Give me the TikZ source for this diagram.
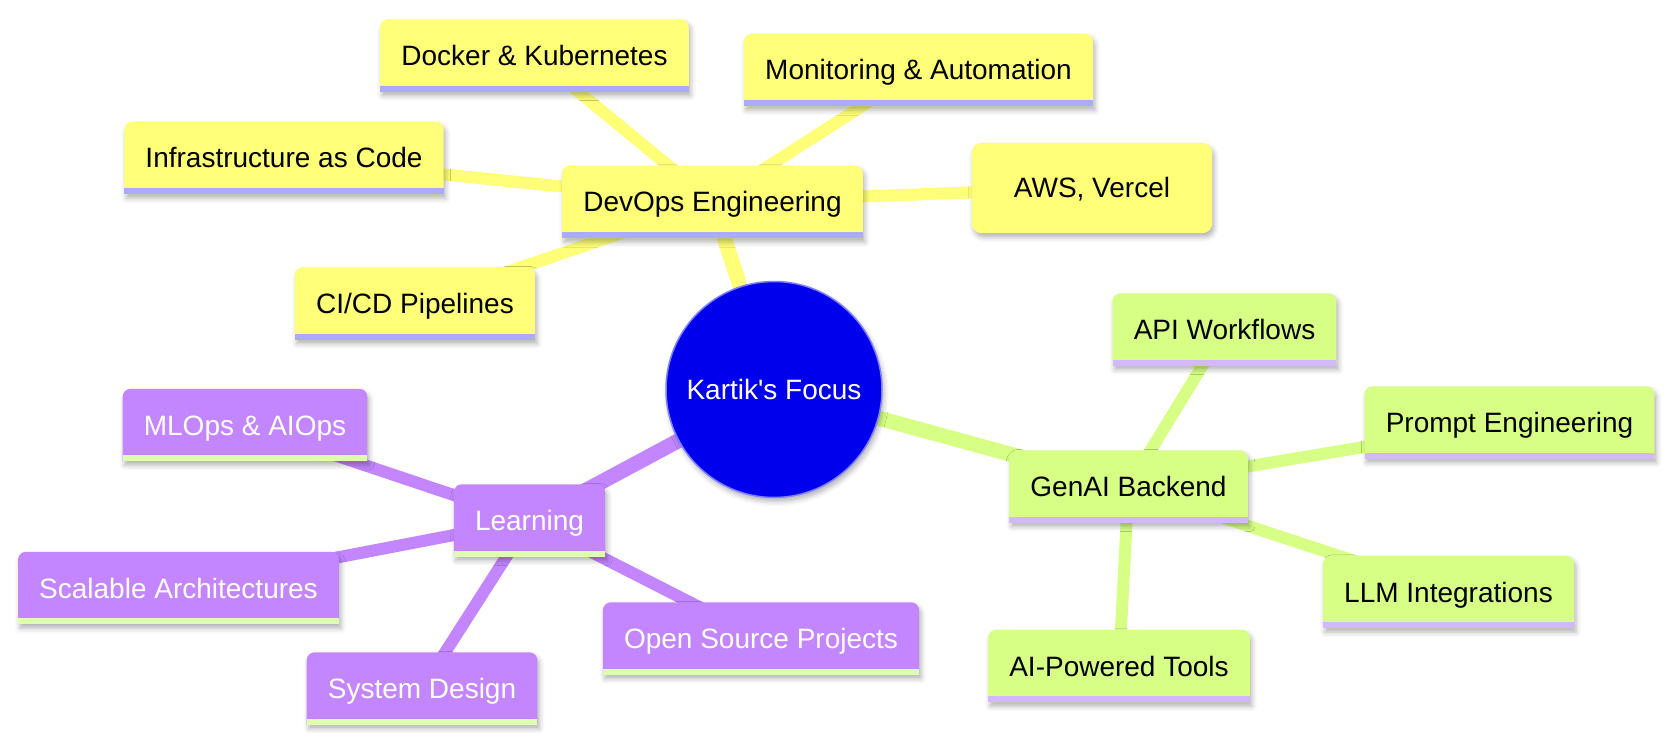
\documentclass[tikz,border=0pt]{standalone}
\usepackage{fontspec}
\setmainfont{Liberation Sans}[Ligatures=TeXOff]
\usetikzlibrary{shadows.blur}
\pgfdeclarelayer{edges}
\pgfdeclarelayer{boxes}
\pgfsetlayers{edges,boxes,main}
\definecolor{yel}{HTML}{FFFF78}
\definecolor{yelstrip}{HTML}{AAAAFF}
\definecolor{grn}{HTML}{D7FF86}
\definecolor{grnstrip}{HTML}{D2B9FF}
\definecolor{pur}{HTML}{C386FF}
\definecolor{purstrip}{HTML}{DCFFB0}
\definecolor{rootblue}{HTML}{0000EC}
\definecolor{rootedge}{HTML}{8080FF}
\newcommand\mmbox[3]{%
  \begin{pgfonlayer}{boxes}
    \fill[#2,shd] (#1.south west) -- ([yshift=-8pt]#1.north west)
      arc[start angle=180,end angle=90,radius=8pt]
      -- ([xshift=-8pt]#1.north east)
      arc[start angle=90,end angle=0,radius=8pt]
      -- (#1.south east) -- cycle;
    \fill[#3] (#1.south west) rectangle ([yshift=6pt]#1.south east);
  \end{pgfonlayer}}
\begin{document}
\begin{tikzpicture}[x=1pt,y=-1pt,
  lbl/.style={inner xsep=21pt, inner ysep=0pt, minimum height=72pt,
    text height=20pt, text depth=0pt, font=\fontsize{28}{34}\selectfont},
  wlbl/.style={lbl, text=white},
  edgeA/.style={line width=15pt},
  edgeB/.style={line width=12pt},
  shd/.style={blur shadow={shadow xshift=2pt, shadow yshift=-4pt,
    shadow blur radius=5pt, shadow opacity=30}}]
\useasboundingbox (0,0) rectangle (1673,743);

% root
\node[circle, minimum size=216pt, inner sep=0pt, fill=rootblue,
  draw=rootedge, line width=1.5pt, text=white,
  font=\fontsize{28}{34}\selectfont, shd] (root) at (774,389.5)
  {Kartik\textquotesingle s Focus};

% DevOps section
\node[lbl] (dev) at (712.5,202) {DevOps Engineering};
\node[lbl] (dock) at (534.5,55.5) {Docker \& Kubernetes};
\node[lbl] (mon) at (918.5,70) {Monitoring \& Automation};
\node[lbl] (infra) at (284,158) {Infrastructure as Code};
\node[lbl, minimum width=240pt, minimum height=90pt] (aws) at (1092,188) {AWS, Vercel};
\node[lbl] (cicd) at (415,303.5) {CI/CD Pipelines};

% GenAI section
\node[lbl] (gen) at (1128.5,486.5) {GenAI Backend};
\node[lbl] (api) at (1224.5,329.5) {API Workflows};
\node[lbl] (prompt) at (1509.5,422.5) {Prompt Engineering};
\node[lbl] (llm) at (1448.5,592) {LLM Integrations};
\node[lbl] (tools) at (1119,666) {AI-Powered Tools};

% Learning section
\node[wlbl] (learn) at (529.5,520.5) {Learning};
\node[wlbl] (mlops) at (245,425) {MLOps \& AIOps};
\node[wlbl] (scal) at (178.5,588) {Scalable Architectures};
\node[wlbl] (sys) at (422,688.5) {System Design};
\node[wlbl] (open) at (761,638.5) {Open Source Projects};

% box backgrounds
\mmbox{dev}{yel}{yelstrip}
\mmbox{dock}{yel}{yelstrip}
\mmbox{mon}{yel}{yelstrip}
\mmbox{infra}{yel}{yelstrip}
\mmbox{cicd}{yel}{yelstrip}
\begin{pgfonlayer}{boxes}
  \fill[yel, shd, rounded corners=10pt] (aws.south west) rectangle (aws.north east);
\end{pgfonlayer}
\mmbox{gen}{grn}{grnstrip}
\mmbox{api}{grn}{grnstrip}
\mmbox{prompt}{grn}{grnstrip}
\mmbox{llm}{grn}{grnstrip}
\mmbox{tools}{grn}{grnstrip}
\mmbox{learn}{pur}{purstrip}
\mmbox{mlops}{pur}{purstrip}
\mmbox{scal}{pur}{purstrip}
\mmbox{sys}{pur}{purstrip}
\mmbox{open}{pur}{purstrip}

% edges
\begin{pgfonlayer}{edges}
  \draw[edgeA, yel] (root.center) -- (dev.center);
  \draw[edgeA, grn] (root.center) -- (gen.center);
  \draw[edgeA, pur] (root.center) -- (learn.center);
  \foreach \t in {dock,mon,infra,aws,cicd}
    \draw[edgeB, yel] (dev.center) -- (\t.center);
  \foreach \t in {api,prompt,llm,tools}
    \draw[edgeB, grn] (gen.center) -- (\t.center);
  \foreach \t in {mlops,scal,sys,open}
    \draw[edgeB, pur] (learn.center) -- (\t.center);
\end{pgfonlayer}
\end{tikzpicture}
\end{document}
